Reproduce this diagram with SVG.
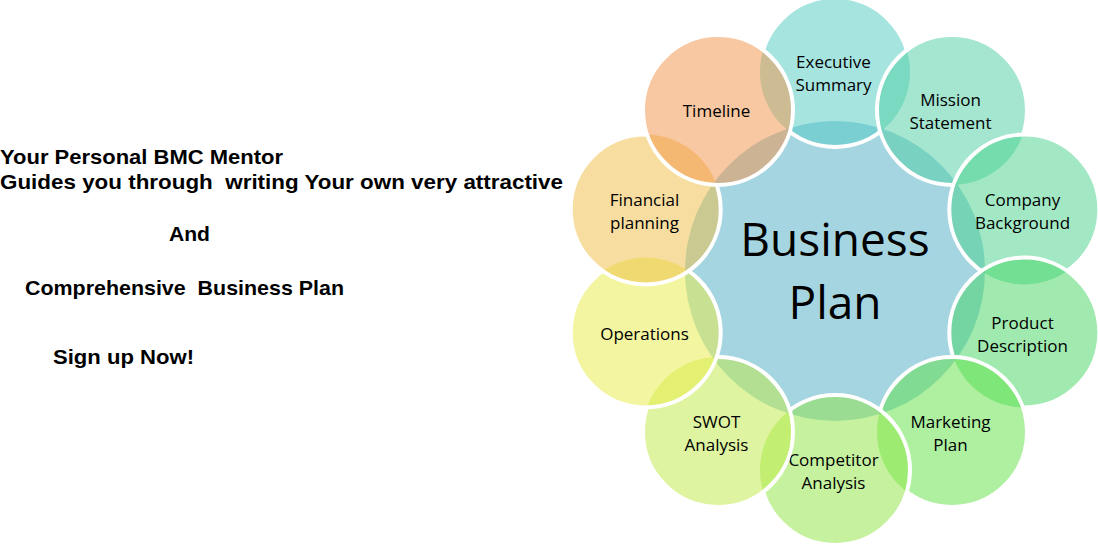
<svg xmlns="http://www.w3.org/2000/svg" width="1098" height="546" viewBox="0 0 1098 546">
<style>
.bg{fill:#ffffff}
.hub{fill:#a6d5e2}
.f{fill-opacity:0.5}
.ring{fill:none;stroke:#ffffff;stroke-width:4}
.lbl{font-family:"Open Sans","Noto Sans","DejaVu Sans",sans-serif;font-size:17px;fill:#000000;text-anchor:middle}
.hubt{font-family:"Open Sans","Noto Sans","DejaVu Sans",sans-serif;font-size:46px;fill:#000000;text-anchor:middle}
.side{font-family:"Liberation Sans","Arial",sans-serif;font-weight:bold;font-size:21px;fill:#000000}
</style>
<defs>
<mask id="m0" maskUnits="userSpaceOnUse" x="0" y="0" width="1098" height="546"><rect width="1098" height="546" fill="#fff"/><circle cx="952" cy="110" r="75" fill="#000"/><circle cx="718" cy="110" r="75" fill="#000"/></mask>
<mask id="m1" maskUnits="userSpaceOnUse" x="0" y="0" width="1098" height="546"><rect width="1098" height="546" fill="#fff"/><circle cx="1024.3" cy="209.5" r="75" fill="#000"/></mask>
<mask id="m2" maskUnits="userSpaceOnUse" x="0" y="0" width="1098" height="546"><rect width="1098" height="546" fill="#fff"/><circle cx="1024.3" cy="332.5" r="75" fill="#000"/></mask>
<mask id="m3" maskUnits="userSpaceOnUse" x="0" y="0" width="1098" height="546"><rect width="1098" height="546" fill="#fff"/><circle cx="952" cy="432" r="75" fill="#000"/></mask>
<mask id="m4" maskUnits="userSpaceOnUse" x="0" y="0" width="1098" height="546"><rect width="1098" height="546" fill="#fff"/><circle cx="835" cy="470" r="75" fill="#000"/></mask>
<mask id="m5" maskUnits="userSpaceOnUse" x="0" y="0" width="1098" height="546"><rect width="1098" height="546" fill="#fff"/><circle cx="718" cy="432" r="75" fill="#000"/></mask>
<mask id="m6" maskUnits="userSpaceOnUse" x="0" y="0" width="1098" height="546"><rect width="1098" height="546" fill="#fff"/><circle cx="645.7" cy="332.5" r="75" fill="#000"/></mask>
<mask id="m7" maskUnits="userSpaceOnUse" x="0" y="0" width="1098" height="546"><rect width="1098" height="546" fill="#fff"/><circle cx="645.7" cy="209.5" r="75" fill="#000"/></mask>
<mask id="m8" maskUnits="userSpaceOnUse" x="0" y="0" width="1098" height="546"><rect width="1098" height="546" fill="#fff"/><circle cx="718" cy="110" r="75" fill="#000"/></mask>
</defs>
<rect class="bg" x="0" y="0" width="1098" height="546"/>

<g id="intro-text">
<text class="side" x="0" y="164" textLength="283" lengthAdjust="spacingAndGlyphs">Your Personal BMC Mentor</text>
<text class="side" x="0" y="188.5" textLength="563" lengthAdjust="spacingAndGlyphs" xml:space="preserve">Guides you through  writing Your own very attractive</text>
<text class="side" x="169" y="241" textLength="41" lengthAdjust="spacingAndGlyphs">And</text>
<text class="side" x="25" y="295" textLength="319" lengthAdjust="spacingAndGlyphs" xml:space="preserve">Comprehensive  Business Plan</text>
<text class="side" x="53" y="364" textLength="141" lengthAdjust="spacingAndGlyphs">Sign up Now!</text>
</g>

<g id="node-business-plan">
<circle class="hub" cx="835" cy="271" r="150"/>
</g>

<g id="connectors"></g>

<g id="node-executive-summary">
<circle class="f" cx="835" cy="72" r="75" fill="#4dc9c1"/>
<circle class="ring" cx="835" cy="72" r="75" mask="url(#m0)"/>
<text class="lbl" x="833.5" y="68">Executive</text>
<text class="lbl" x="833.5" y="91">Summary</text>
</g>

<g id="node-mission-statement">
<circle class="f" cx="952" cy="110" r="75" fill="#4bcda1"/>
<circle class="ring" cx="952" cy="110" r="75" mask="url(#m1)"/>
<text class="lbl" x="950.5" y="106">Mission</text>
<text class="lbl" x="950.5" y="129">Statement</text>
</g>

<g id="node-company-background">
<circle class="f" cx="1024.3" cy="209.5" r="75" fill="#45d189"/>
<circle class="ring" cx="1024.3" cy="209.5" r="75" mask="url(#m2)"/>
<text class="lbl" x="1022.5" y="205.5">Company</text>
<text class="lbl" x="1022.5" y="228.5">Background</text>
</g>

<g id="node-product-description">
<circle class="f" cx="1024.3" cy="332.5" r="75" fill="#41d561"/>
<circle class="ring" cx="1024.3" cy="332.5" r="75" mask="url(#m3)"/>
<text class="lbl" x="1022.5" y="328.5">Product</text>
<text class="lbl" x="1022.5" y="351.5">Description</text>
</g>

<g id="node-marketing-plan">
<circle class="f" cx="952" cy="432" r="75" fill="#5de141"/>
<circle class="ring" cx="952" cy="432" r="75" mask="url(#m4)"/>
<text class="lbl" x="950.5" y="428">Marketing</text>
<text class="lbl" x="950.5" y="451">Plan</text>
</g>

<g id="node-competitor-analysis">
<circle class="f" cx="835" cy="470" r="75" fill="#8de541"/>
<circle class="ring" cx="835" cy="470" r="75" mask="url(#m5)"/>
<text class="lbl" x="833.5" y="466">Competitor</text>
<text class="lbl" x="833.5" y="489">Analysis</text>
</g>

<g id="node-swot-analysis">
<circle class="f" cx="718" cy="432" r="75" fill="#bde941"/>
<circle class="ring" cx="718" cy="432" r="75" mask="url(#m6)"/>
<text class="lbl" x="716.5" y="428">SWOT</text>
<text class="lbl" x="716.5" y="451">Analysis</text>
</g>

<g id="node-operations">
<circle class="f" cx="645.7" cy="332.5" r="75" fill="#e7eb41"/>
<circle class="ring" cx="645.7" cy="332.5" r="75" mask="url(#m7)"/>
<text class="lbl" x="644.5" y="339.5">Operations</text>
</g>

<g id="node-financial-planning">
<circle class="f" cx="645.7" cy="209.5" r="75" fill="#efbd41"/>
<circle class="ring" cx="645.7" cy="209.5" r="75" mask="url(#m8)"/>
<text class="lbl" x="644.5" y="205.5">Financial</text>
<text class="lbl" x="644.5" y="228.5">planning</text>
</g>

<g id="node-timeline">
<circle class="f" cx="718" cy="110" r="75" fill="#f19145"/>
<circle class="ring" cx="718" cy="110" r="75"/>
<text class="lbl" x="716.5" y="117">Timeline</text>
</g>

<g id="node-business-plan-label">
<text class="hubt" x="835" y="256">Business</text>
<text class="hubt" x="835" y="319">Plan</text>
</g>
</svg>
